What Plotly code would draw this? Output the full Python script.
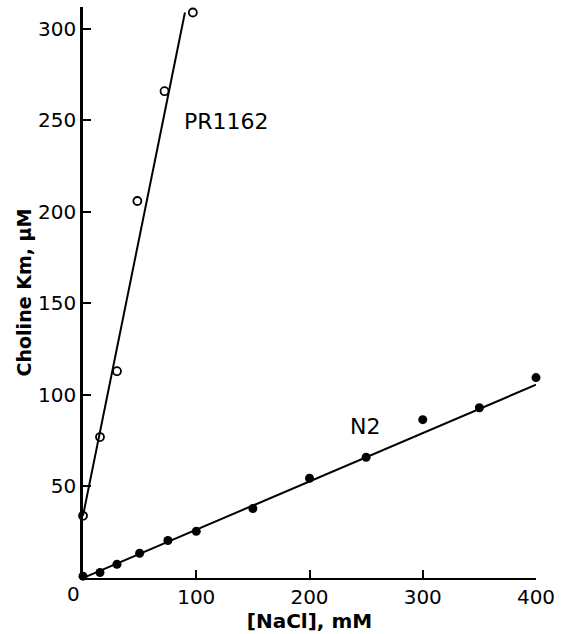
import plotly.graph_objects as go

# PR1162 (open circles)
pr_x = [0, 15, 30, 48, 72, 97]
pr_y = [34, 77, 113, 206, 266, 309]
pr_fit_x = [0, 90]
pr_fit_y = [34, 309]

# N2 (filled circles)
n2_x = [0, 15, 30, 50, 75, 100, 150, 200, 250, 300, 350, 400]
n2_y = [1, 3, 7.5, 13.5, 20.5, 25.5, 38, 54.5, 66, 86.5, 93, 109.5]
n2_fit_x = [0, 400]
n2_fit_y = [0, 105.6]

x_ticks = [100, 200, 300, 400]
y_ticks = [50, 100, 150, 200, 250, 300]

FONT = "DejaVu Sans"

fig = go.Figure()
fig.add_trace(go.Scatter(x=pr_fit_x, y=pr_fit_y, mode="lines",
                         line=dict(color="black", width=2), cliponaxis=False, showlegend=False))
fig.add_trace(go.Scatter(x=n2_fit_x, y=n2_fit_y, mode="lines",
                         line=dict(color="black", width=2), cliponaxis=False, showlegend=False))
fig.add_trace(go.Scatter(x=pr_x, y=pr_y, mode="markers",
                         marker=dict(symbol="circle-open", size=8, color="black", line=dict(width=1.8)),
                         cliponaxis=False, showlegend=False))
fig.add_trace(go.Scatter(x=n2_x, y=n2_y, mode="markers",
                         marker=dict(symbol="circle", size=9, color="black"),
                         cliponaxis=False, showlegend=False))

fig.add_annotation(x=127, y=249.5, text="PR1162", showarrow=False,
                   font=dict(family=FONT, size=22, color="black"))
fig.add_annotation(x=249, y=83, text="N2", showarrow=False,
                   font=dict(family=FONT, size=22, color="black"))
fig.add_annotation(x=0, y=0, text="0", showarrow=False, xshift=-10, yshift=-16,
                   font=dict(family=FONT, size=20, color="black"))

fig.update_layout(
    width=562, height=634,
    margin=dict(l=83, r=24, t=7, b=56),
    paper_bgcolor="white", plot_bgcolor="white",
    font=dict(family=FONT, color="black"),
)
fig.update_xaxes(range=[0, 400], tickvals=x_ticks, showline=True, linewidth=2, linecolor="black",
                 ticks="inside", ticklen=8, tickwidth=2, tickcolor="black",
                 showgrid=False, zeroline=False,
                 tickfont=dict(family=FONT, size=20, color="black"),
                 title=dict(text="<b>[NaCl], mM</b>", font=dict(family=FONT, size=20, color="black"), standoff=2))
fig.update_yaxes(range=[0, 312], tickvals=y_ticks, showline=True, linewidth=2.5, linecolor="black",
                 ticks="inside", ticklen=8, tickwidth=2, tickcolor="black",
                 showgrid=False, zeroline=False,
                 tickfont=dict(family=FONT, size=20, color="black"),
                 title=dict(text="<b>Choline Km, μM</b>", font=dict(family=FONT, size=19, color="black"), standoff=2))

fig.write_html("out.html")
